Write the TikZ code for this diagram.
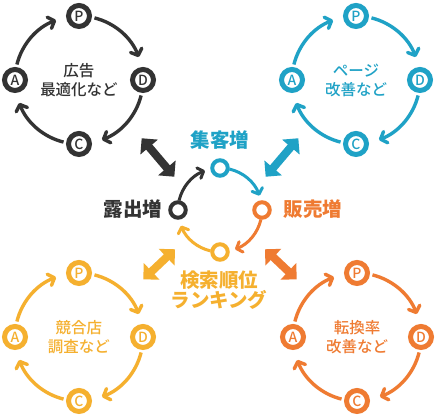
\documentclass[tikz,border=0pt]{standalone}
\usepackage{fontspec}
\setmainfont{Noto Sans CJK JP}
\newfontfamily\jpm{Noto Sans CJK JP Medium}
\usetikzlibrary{arrows.meta,calc}
\definecolor{cdark}{HTML}{333333}
\definecolor{cblue}{HTML}{1FA2C6}
\definecolor{cyel}{HTML}{F5B02F}
\definecolor{corg}{HTML}{EF7B32}
\tikzset{
 pdca/.style={circle, draw=#1, line width=5pt, fill=white, minimum size=21pt, inner sep=0pt, text=#1, font=\jpm\fontsize{14}{14}\selectfont},
 ring/.style={circle, draw=#1, line width=4pt, fill=white, minimum size=15.5pt, inner sep=0pt},
 cyc/.style={draw=#1, line width=3.4pt, -{Straight Barb[length=5.5pt,width=12pt,round]}},
 ccyc/.style={draw=#1, line width=3pt, -{Straight Barb[length=5pt,width=11pt,round]}},
 ctext/.style={text=#1, align=center, font=\jpm\fontsize{15.5}{19}\selectfont},
 lbl/.style={text=#1, align=center, font=\fontsize{19.5}{20}\selectfont\bfseries},
}
\newcommand\pdcacycle[3]{%
 \foreach \a/\b in {76/21, -14/-69, -104/-159, 166/111}
   \draw[cyc=#2] ($(#1)+(\a:64pt)$) arc[start angle=\a, end angle=\b, radius=64pt];
 \foreach \ang/\nm in {90/P,0/D,-90/C,180/A}
   \node[pdca=#2] (#1\nm) at ($(#1)+(\ang:64pt)$) {\nm};
 \node[ctext=#2] (#1t) at (#1) {#3};
}
\newcommand\dbla[3]{%
 \coordinate (hA) at ($(#2)!11.5pt!(#3)$);
 \coordinate (hB) at ($(#3)!11.5pt!(#2)$);
 \fill[#1] (#2) -- ($(hA)!11.5pt!90:(#3)$) -- ($(hA)!4pt!90:(#3)$) -- ($(hB)!4pt!-90:(#2)$) -- ($(hB)!11.5pt!-90:(#2)$) -- (#3) -- ($(hB)!11.5pt!90:(#2)$) -- ($(hB)!4pt!90:(#2)$) -- ($(hA)!4pt!-90:(#3)$) -- ($(hA)!11.5pt!-90:(#3)$) -- cycle;
}
\begin{document}
\begin{tikzpicture}[x=1pt,y=1pt]
\useasboundingbox (0,0) rectangle (440,419);
\fill[white] (0,0) rectangle (440,419);
\coordinate (tl) at (79,339);
\coordinate (tr) at (356,339);
\coordinate (bl) at (79,82);
\coordinate (br) at (357,82);
\pdcacycle{tl}{cdark}{広告\\最適化など}
\pdcacycle{tr}{cblue}{ページ\\改善など}
\pdcacycle{bl}{cyel}{競合店\\調査など}
\pdcacycle{br}{corg}{転換率\\改善など}
% centre cycle
\coordinate (m) at (220,209);
\draw[ccyc=cdark] ($(m)+(167:42pt)$) arc[start angle=167,end angle=111,radius=42pt];
\draw[ccyc=cblue] ($(m)+(77:42pt)$) arc[start angle=77,end angle=20,radius=42pt];
\draw[ccyc=corg] ($(m)+(-13:42pt)$) arc[start angle=-13,end angle=-69,radius=42pt];
\draw[ccyc=cyel] ($(m)+(-103:42pt)$) arc[start angle=-103,end angle=-158,radius=42pt];
\node[ring=cblue] (rt) at ($(m)+(90:42pt)$) {};
\node[ring=corg] (rr) at ($(m)+(0:42pt)$) {};
\node[ring=cyel] (rb) at ($(m)+(-90:42pt)$) {};
\node[ring=cdark] (rl) at ($(m)+(180:42pt)$) {};
\node[lbl=cblue] (l1) at (220,278.5) {集客増};
\node[lbl=cdark] (l2) at (133,210) {露出増};
\node[lbl=corg] (l3) at (313,210) {販売増};
\node[lbl=cyel] (l4) at (219,129) {検索順位\\ランキング};
% double arrows
\coordinate (d1a) at (141.7,280.7); \coordinate (d1b) at (174.3,242.3);
\coordinate (d2a) at (298.3,280.7); \coordinate (d2b) at (265.7,242.3);
\coordinate (d3a) at (143.3,139.7); \coordinate (d3b) at (175,169.7);
\coordinate (d4a) at (296.7,139.7); \coordinate (d4b) at (265,169.7);
\dbla{cdark}{d1a}{d1b}
\dbla{cblue}{d2a}{d2b}
\dbla{cyel}{d3a}{d3b}
\dbla{corg}{d4a}{d4b}
\end{tikzpicture}
\end{document}
